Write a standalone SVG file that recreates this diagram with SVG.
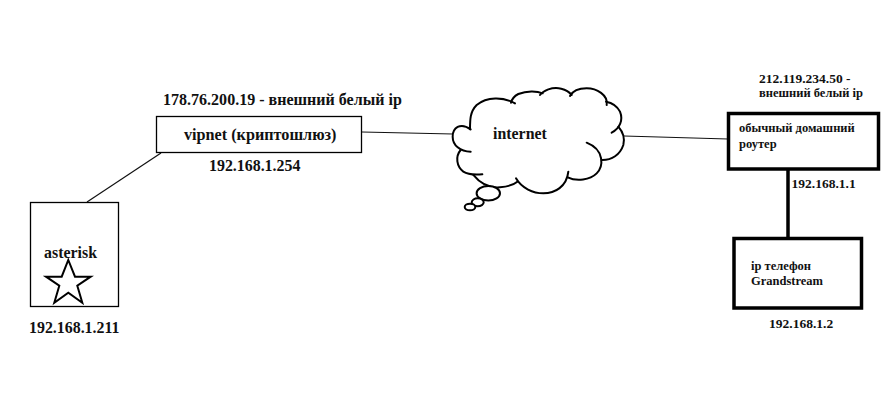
<svg xmlns="http://www.w3.org/2000/svg" width="888" height="410" viewBox="0 0 888 410">
<style>
text{font-family:"Liberation Serif","Times New Roman",serif;font-weight:bold;fill:#111}
.a{font-size:15.9px}
.w{font-size:16.2px}
.t{font-size:16.05px}
.n{font-size:13.5px}
.b{font-size:12.5px}
.box{fill:#fff;stroke:#000}
.c{fill:none;stroke:#111;stroke-width:1.2}
.k{fill:none;stroke:#000;stroke-width:6;stroke-linecap:round}
</style>
<rect width="888" height="410" fill="#fff"/>
<g id="connectors">
<path class="c" d="M87 202L161 153"/>
<path class="c" d="M362 132L453 134"/>
<path class="c" d="M624 136L728 139"/>
<path d="M788 169V238" fill="none" stroke="#000" stroke-width="3.500"/>
</g>
<g id="asterisk">
<rect class="box" x="30.500" y="202.500" width="88" height="104" stroke-width="1.300"/>
<text class="a" x="44" y="258">asterisk</text>
<path d="M68.300 260L75 276.700H90.700L77.300 285.700L82.300 302.700L68.300 292.700L54.300 302.700L59.300 285.700L46 276.700H61.700Z" fill="#fff" stroke="#000" stroke-width="2"/>
<text class="a" x="29" y="333">192.168.1.211</text>
</g>
<g id="vipnet">
<text class="t" x="163" y="104.500">178.76.200.19 - внешний белый ip</text>
<rect class="box" x="156.500" y="116.500" width="205" height="36" stroke-width="1.300"/>
<text class="w" x="184" y="140">vipnet (криптошлюз)</text>
<text class="a" x="209" y="171">192.168.1.254</text>
</g>
<g id="internet">
<g transform="translate(430 70) scale(.33333)">
<path fill="#fff" d="M68 200C68 175 90 155 120 165C120 150 120 125 140 105C170 80 220 80 243 98C250 80 290 62 335 72C345 62 380 50 422 75C430 60 450 55 470 55C500 55 528 75 530 97C545 98 560 105 570 125C575 140 572 155 565 170C578 185 585 205 580 225C570 255 545 270 517 270C510 300 480 335 413 322C410 350 375 370 340 370C310 370 275 355 260 332C250 345 235 350 210 352C175 355 150 340 130 315C115 315 100 305 90 295C78 280 80 260 92 240C75 230 68 215 68 200Z"/>
<g class="k">
<path d="M122 178C90 155 68 175 68 200C68 225 90 245 122 245"/>
<path d="M92 240C75 260 80 290 100 305C115 315 135 315 157 313"/>
<path d="M130 315C150 340 175 355 210 352C235 350 250 345 262 335"/>
<path d="M258 325C275 355 310 370 340 370C375 370 410 350 415 305"/>
<path d="M413 322C440 335 480 330 500 310C520 290 525 240 470 218"/>
<path d="M517 270C545 270 570 255 580 225C585 205 578 185 565 170"/>
<path d="M545 188C570 175 580 150 570 125C560 105 545 98 528 95"/>
<path d="M530 105C535 75 500 55 470 55C450 55 430 60 420 78"/>
<path d="M425 75C410 55 380 50 355 58C345 62 335 68 330 75"/>
<path d="M338 70C320 62 290 62 265 72C250 80 245 90 243 98"/>
<path d="M255 100C220 80 170 80 140 105C120 125 120 150 120 178"/>
</g>
</g>
<ellipse cx="488.300" cy="193.300" rx="11.700" ry="7.300" fill="#fff" stroke="#000" stroke-width="2"/>
<ellipse cx="477.700" cy="202.300" rx="6" ry="4" fill="#fff" stroke="#000" stroke-width="2"/>
<ellipse cx="470" cy="207" rx="5.300" ry="3.300" fill="#fff" stroke="#000" stroke-width="2"/>
<text class="a" x="493" y="139">internet</text>
</g>
<g id="router">
<text class="n" x="759" y="82.500">212.119.234.50 -</text>
<text class="b" x="759" y="97">внешний белый ip</text>
<rect class="box" x="728.500" y="113.500" width="150" height="55.500" stroke-width="3.500"/>
<text class="b" x="739" y="132">обычный домашний</text>
<text class="b" x="739" y="147.500">роутер</text>
<text class="n" x="791.500" y="188">192.168.1.1</text>
</g>
<g id="phone">
<rect class="box" x="734" y="238.500" width="127.500" height="69.500" stroke-width="3.500"/>
<text class="b" x="751" y="270">ip телефон</text>
<text class="b" x="751" y="284.500">Grandstream</text>
<text class="n" x="769" y="328">192.168.1.2</text>
</g>
</svg>
